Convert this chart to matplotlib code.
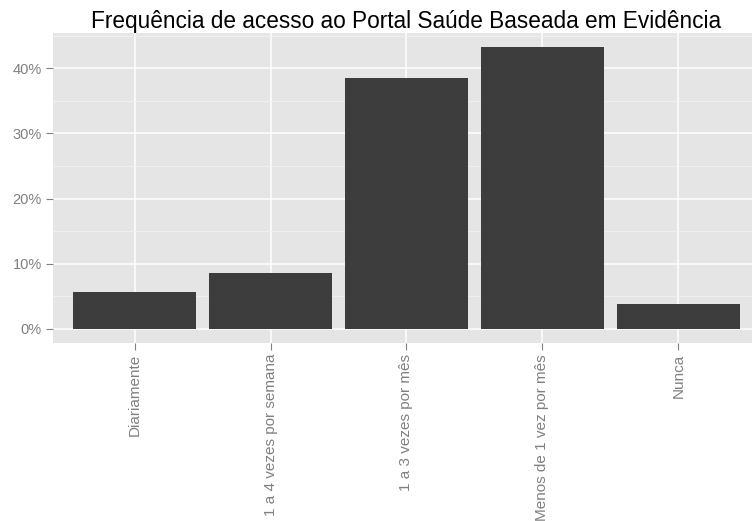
import matplotlib.pyplot as plt
import numpy as np
from matplotlib.ticker import FuncFormatter, MultipleLocator

categories = ['Diariamente', '1 a 4 vezes por semana', '1 a 3 vezes por mês',
              'Menos de 1 vez por mês', 'Nunca']
percent = [5.7, 8.6, 38.5, 43.3, 3.8]

plt.rcParams['font.family'] = ['Liberation Sans', 'DejaVu Sans']

fig = plt.figure(figsize=(7.52, 5.21), dpi=100)
ax = fig.add_axes([0.0705, 0.342, 0.94, 0.595])

x = np.arange(len(categories))
ax.bar(x, percent, width=0.9, color='#3d3d3d', zorder=3)

# ggplot-like expansion
ymax = max(percent)
ax.set_ylim(-0.05 * ymax, ymax * 1.05)
ax.set_xlim(-0.6, len(categories) - 0.4)

ax.set_facecolor('#e5e5e5')
ax.yaxis.set_major_locator(MultipleLocator(10))
ax.yaxis.set_minor_locator(MultipleLocator(5))
ax.yaxis.set_major_formatter(FuncFormatter(lambda v, p: '%d%%' % v))
ax.grid(which='major', color='white', linewidth=1.1, zorder=0)
ax.grid(which='minor', axis='y', color='#f2f2f2', linewidth=0.6, zorder=0)
ax.set_axisbelow(True)

ax.set_xticks(x)
ax.set_xticklabels(categories, rotation=90, va='top', ha='center')
ax.tick_params(which='major', colors='#808080', labelsize=10.5, length=5,
               width=0.8, pad=3)
ax.tick_params(axis='x', labelsize=11)
ax.tick_params(which='minor', length=0)
for s in ax.spines.values():
    s.set_visible(False)

ax.set_title('Frequência de acesso ao Portal Saúde Baseada em Evidência',
             fontsize=16.3, color='black', pad=2)

fig.savefig('out.png', dpi=100)
